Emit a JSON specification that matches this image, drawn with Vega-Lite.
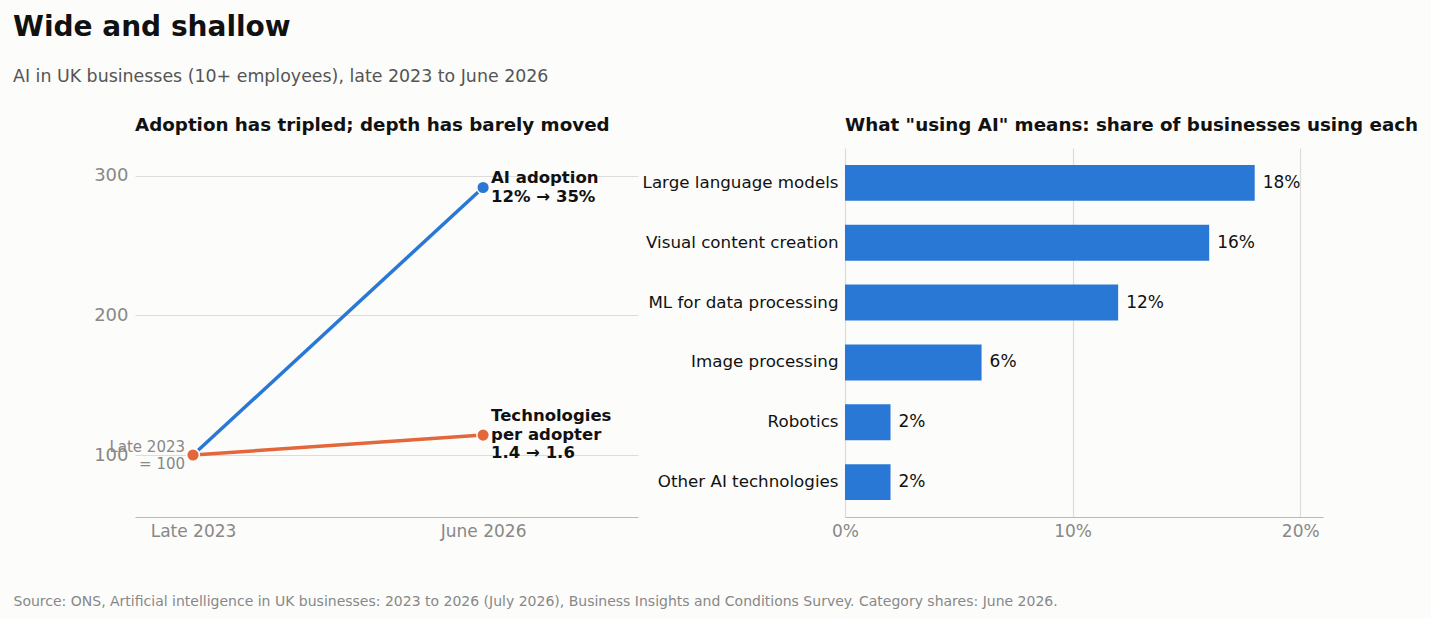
{
  "$schema": "https://vega.github.io/schema/vega-lite/v6.json",
  "background": "#fcfcfa",
  "padding": {"left": 13, "top": 14, "right": 110, "bottom": 15},
  "config": {
    "font": "DejaVu Sans",
    "view": {"stroke": null},
    "axis": {"labelFont": "DejaVu Sans", "titleFont": "DejaVu Sans"}
  },
  "title": {
    "text": "Wide and shallow",
    "subtitle": "AI in UK businesses (10+ employees), late 2023 to June 2026",
    "anchor": "start",
    "frame": "group",
    "dx": -122,
    "fontSize": 28,
    "fontWeight": "bold",
    "color": "#111111",
    "subtitleFontSize": 17.4,
    "subtitleColor": "#555555",
    "subtitlePadding": 26,
    "offset": 30
  },
  "bounds": "flush",
  "spacing": 207,
  "hconcat": [
    {
      "width": 503,
      "height": 369,
      "title": {"text": "Adoption has tripled; depth has barely moved", "anchor": "start", "frame": "group", "fontSize": 18.3, "fontWeight": "bold", "color": "#111111", "offset": 13},
      "data": {"values": [
        {"series": "AI adoption", "x": 0, "value": 100, "label": ""},
        {"series": "AI adoption", "x": 1, "value": 291.7, "label": "AI adoption\n12% → 35%"},
        {"series": "Technologies per adopter", "x": 0, "value": 100, "label": ""},
        {"series": "Technologies per adopter", "x": 1, "value": 114.3, "label": "Technologies\nper adopter\n1.4 → 1.6"}
      ]},
      "encoding": {
        "x": {
          "field": "x", "type": "quantitative",
          "scale": {"domain": [-0.2, 1.534], "nice": false, "zero": false},
          "axis": {
            "values": [0, 1],
            "labelExpr": "datum.value == 0 ? 'Late 2023' : 'June 2026'",
            "grid": false, "ticks": false, "domain": true, "domainColor": "#bbbbbb", "domainWidth": 1.2,
            "labelColor": "#888888", "labelFontSize": 17, "labelPadding": 6, "labelFlush": false,
            "title": "Source: ONS, Artificial intelligence in UK businesses: 2023 to 2026 (July 2026), Business Insights and Conditions Survey. Category shares: June 2026.",
            "titleX": -122, "titleY": 88, "titleAlign": "left", "titleBaseline": "alphabetic",
            "titleFontSize": 14, "titleFontWeight": "normal", "titleColor": "#888888"
          }
        },
        "y": {
          "field": "value", "type": "quantitative",
          "scale": {"domain": [55.6, 320], "nice": false, "zero": false},
          "axis": {
            "values": [100, 200, 300], "grid": true, "gridColor": "#dcdcdc", "gridWidth": 1.2,
            "ticks": false, "domain": false, "labelColor": "#888888", "labelFontSize": 18, "labelPadding": 7, "title": null
          }
        },
        "color": {
          "field": "series", "type": "nominal",
          "scale": {"domain": ["AI adoption", "Technologies per adopter"], "range": ["#2a78d6", "#e3673a"]},
          "legend": null
        }
      },
      "layer": [
        {"mark": {"type": "line", "strokeWidth": 3.5}},
        {"mark": {"type": "point", "filled": true, "size": 160, "opacity": 1, "stroke": "#ffffff", "strokeWidth": 1.5}},
        {
          "transform": [{"filter": "datum.x == 1 && datum.series == 'AI adoption'"}],
          "mark": {"type": "text", "align": "left", "baseline": "middle", "dx": 8, "dy": -9.5, "fontSize": 16.5, "fontWeight": "bold", "color": "#111111", "lineBreak": "\n", "lineHeight": 19},
          "encoding": {"text": {"field": "label"}, "color": {"value": "#111111"}}
        },
        {
          "transform": [{"filter": "datum.x == 1 && datum.series == 'Technologies per adopter'"}],
          "mark": {"type": "text", "align": "left", "baseline": "middle", "dx": 8, "dy": -19, "fontSize": 16.5, "fontWeight": "bold", "color": "#111111", "lineBreak": "\n", "lineHeight": 18.5},
          "encoding": {"text": {"field": "label"}, "color": {"value": "#111111"}}
        },
        {
          "data": {"values": [{"x": 0, "value": 100, "note": "Late 2023\n= 100"}]},
          "mark": {"type": "text", "align": "right", "baseline": "middle", "dx": -8, "dy": -8.5, "fontSize": 15, "color": "#888888", "lineBreak": "\n", "lineHeight": 17},
          "encoding": {"text": {"field": "note"}, "color": {"value": "#888888"}}
        }
      ]
    },
    {
      "width": 478,
      "height": 369,
      "title": {"text": "What \"using AI\" means: share of businesses using each", "anchor": "start", "frame": "group", "fontSize": 18.3, "fontWeight": "bold", "color": "#111111", "offset": 13},
      "data": {"values": [
        {"category": "Large language models", "share": 0.18},
        {"category": "Visual content creation", "share": 0.16},
        {"category": "ML for data processing", "share": 0.12},
        {"category": "Image processing", "share": 0.06},
        {"category": "Robotics", "share": 0.02},
        {"category": "Other AI technologies", "share": 0.02}
      ]},
      "encoding": {
        "y": {
          "field": "category", "type": "nominal", "sort": null,
          "scale": {"paddingInner": 0.4, "paddingOuter": 0.283},
          "axis": {"ticks": false, "domain": false, "labelColor": "#111111", "labelFontSize": 16.7, "labelPadding": 7, "title": null, "labelLimit": 400}
        },
        "x": {
          "field": "share", "type": "quantitative",
          "scale": {"domain": [0, 0.21], "nice": false},
          "axis": {
            "values": [0, 0.1, 0.2], "format": ".0%", "grid": true, "gridColor": "#dcdcdc", "gridWidth": 1.2,
            "ticks": false, "domain": true, "domainColor": "#bbbbbb", "domainWidth": 1.2, "labelFlush": false,
            "labelColor": "#888888", "labelFontSize": 17, "labelPadding": 6, "title": null
          }
        }
      },
      "layer": [
        {"mark": {"type": "bar", "color": "#2a78d6"}},
        {
          "mark": {"type": "text", "align": "left", "baseline": "middle", "dx": 8, "fontSize": 17, "color": "#111111"},
          "encoding": {"text": {"field": "share", "format": ".0%"}}
        }
      ]
    }
  ]
}
